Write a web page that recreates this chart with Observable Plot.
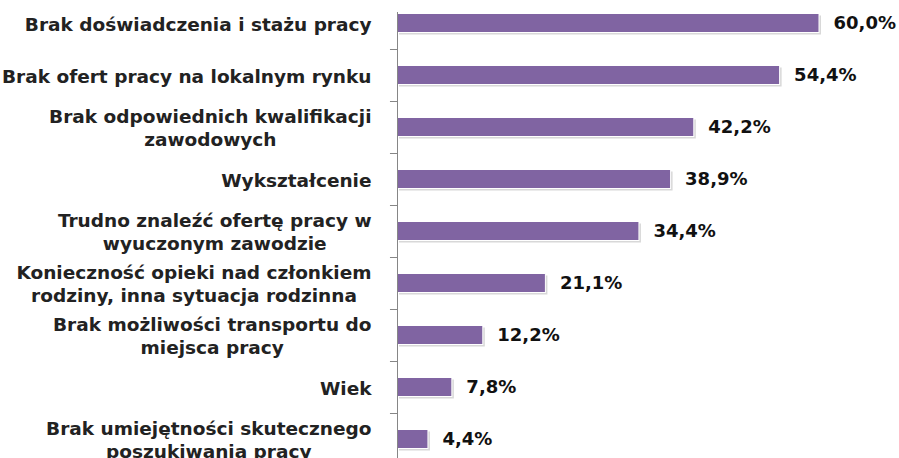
<!DOCTYPE html>
<html><head><meta charset="utf-8">
<script src="https://cdn.jsdelivr.net/npm/d3@7"></script>
<script src="https://cdn.jsdelivr.net/npm/@observablehq/plot@0.6"></script>
<style>body{margin:0;background:#fff;overflow:hidden}</style>
</head><body><div id="chart"></div>
<script>
const categories = [
  "Brak doświadczenia i stażu pracy",
  "Brak ofert pracy na lokalnym rynku",
  "Brak odpowiednich kwalifikacji\nzawodowych",
  "Wykształcenie",
  "Trudno znaleźć ofertę pracy w\nwyuczonym zawodzie",
  "Konieczność opieki nad członkiem\nrodziny, inna sytuacja rodzinna",
  "Brak możliwości transportu do\nmiejsca pracy",
  "Wiek",
  "Brak umiejętności skutecznego\nposzukiwania pracy"
];
const values = [60.0, 54.4, 42.2, 38.9, 34.4, 21.1, 12.2, 7.8, 4.4];
const valueLabels = ["60,0%", "54,4%", "42,2%", "38,9%", "34,4%", "21,1%", "12,2%", "7,8%", "4,4%"];

const data = categories.map((c, i) => ({category: c, value: values[i], label: valueLabels[i]}));

const labelFamily = "'DejaVu Sans', sans-serif";
const labelSize = 18.5;
const labelWeight = "bold";
const ctx = document.createElement("canvas").getContext("2d");
ctx.font = `${labelWeight} ${labelSize}px 'DejaVu Sans'`;
const blockWidth = s => Math.max(...s.split("\n").map(l => ctx.measureText(l).width));

const labelMarks = data.map(d => Plot.text([d], {
  x: 0, y: "category", text: "category",
  textAnchor: "middle", lineAnchor: "middle",
  dx: -26 - blockWidth(d.category) / 2,
  lineHeight: 23 / labelSize,
  fontSize: labelSize, fontWeight: labelWeight, fontFamily: labelFamily, fill: "#222"
}));

const chart = Plot.plot({
  width: 899, height: 458,
  marginTop: 12, marginBottom: 0, marginLeft: 397, marginRight: 80,
  x: {domain: [0, 60], range: [397, 819], axis: null},
  y: {domain: categories, range: [-3, 465], padding: 0, axis: null},
  style: {background: "#fff", overflow: "visible"},
  marks: [
    Plot.barX(data, {x: "value", y: "category", insetTop: 16.5, insetBottom: 16.5, fill: "#c8c8c8", dx: 2, dy: 2, fillOpacity: 0.7}),
    Plot.barX(data, {x: "value", y: "category", insetTop: 16.5, insetBottom: 16.5, fill: "#8064A2", stroke: "#fff", strokeWidth: 1}),
    Plot.ruleX([0], {stroke: "#868686", strokeWidth: 1}),
    Plot.ruleY(categories.slice(1), {y: d => d, dy: -26, x1: -1, x2: 0, stroke: "#868686"}),
    ...labelMarks,
    Plot.text(data, {x: "value", y: "category", text: "label", dx: 14, textAnchor: "start",
      fontSize: 18, fontWeight: "bold", fontFamily: labelFamily, fill: "#111"})
  ]
});
document.getElementById("chart").appendChild(chart);
</script>
</body></html>
